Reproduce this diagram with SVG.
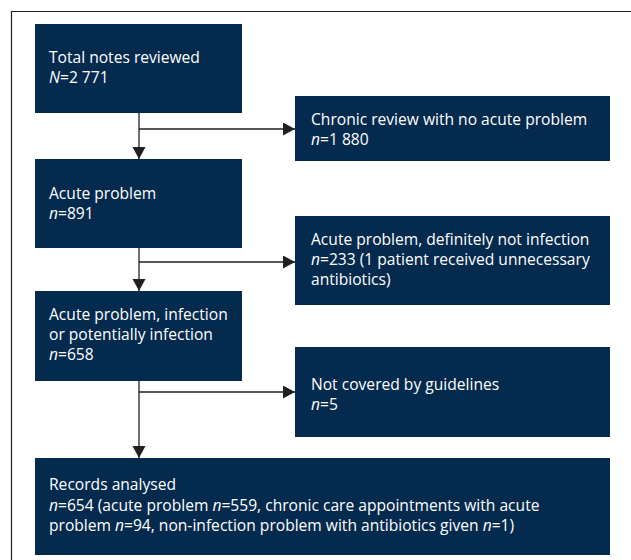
<svg xmlns="http://www.w3.org/2000/svg" width="631" height="560" viewBox="0 0 631 560">
<style>
.box{fill:#042a4e}
.t{font-family:"Open Sans","Noto Sans",sans-serif;font-size:15.6px;fill:#ffffff}
.i{font-style:italic}
.ln{stroke:#231f20;stroke-width:1.3;fill:none}
.frame{stroke:#231f20;stroke-width:1.2;fill:none}
</style>
<defs>
<marker id="ah" markerUnits="userSpaceOnUse" markerWidth="13" markerHeight="14" refX="12" refY="6.5" orient="auto">
<path d="M0,0 L12,6.5 L0,13 z" fill="#231f20"/>
</marker>
</defs>
<rect width="631" height="560" fill="#ffffff"/>
<path class="frame" d="M11.5,560 V11.5 H631"/>
<g id="n1">
<rect class="box" x="35" y="24" width="207" height="89"/>
<text class="t" x="49" y="63">Total notes reviewed</text>
<text class="t" x="49" y="83"><tspan class="i">N</tspan>=2 771</text>
</g>
<g id="n2">
<rect class="box" x="295" y="96" width="315" height="65"/>
<text class="t" x="311" y="125">Chronic review with no acute problem</text>
<text class="t" x="311" y="145"><tspan class="i">n</tspan>=1 880</text>
</g>
<g id="n3">
<rect class="box" x="35" y="159" width="207" height="89"/>
<text class="t" x="49" y="199">Acute problem</text>
<text class="t" x="49" y="219"><tspan class="i">n</tspan>=891</text>
</g>
<g id="n4">
<rect class="box" x="295" y="216" width="315" height="89"/>
<text class="t" x="311" y="245">Acute problem, definitely not infection</text>
<text class="t" x="311" y="265"><tspan class="i">n</tspan>=233 (1 patient received unnecessary</text>
<text class="t" x="311" y="285">antibiotics)</text>
</g>
<g id="n5">
<rect class="box" x="35" y="291" width="207" height="90"/>
<text class="t" x="49" y="320">Acute problem, infection</text>
<text class="t" x="49" y="340">or potentially infection</text>
<text class="t" x="49" y="360"><tspan class="i">n</tspan>=658</text>
</g>
<g id="n6">
<rect class="box" x="295" y="347" width="315" height="90"/>
<text class="t" x="311" y="390">Not covered by guidelines</text>
<text class="t" x="311" y="410"><tspan class="i">n</tspan>=5</text>
</g>
<g id="n7">
<rect class="box" x="35" y="458" width="575" height="97"/>
<text class="t" x="49" y="490">Records analysed</text>
<text class="t" x="49" y="511"><tspan class="i">n</tspan>=654 (acute problem <tspan class="i">n</tspan>=559, chronic care appointments with acute</text>
<text class="t" x="49" y="531">problem <tspan class="i">n</tspan>=94, non-infection problem with antibiotics given <tspan class="i">n</tspan>=1)</text>
</g>
<g id="connectors">
<path class="ln" d="M139,113 V159" marker-end="url(#ah)"/>
<path class="ln" d="M139,129 H295" marker-end="url(#ah)"/>
<path class="ln" d="M139,248 V291" marker-end="url(#ah)"/>
<path class="ln" d="M139,262 H295" marker-end="url(#ah)"/>
<path class="ln" d="M139,381 V458" marker-end="url(#ah)"/>
<path class="ln" d="M139,392 H295" marker-end="url(#ah)"/>
</g>
</svg>
